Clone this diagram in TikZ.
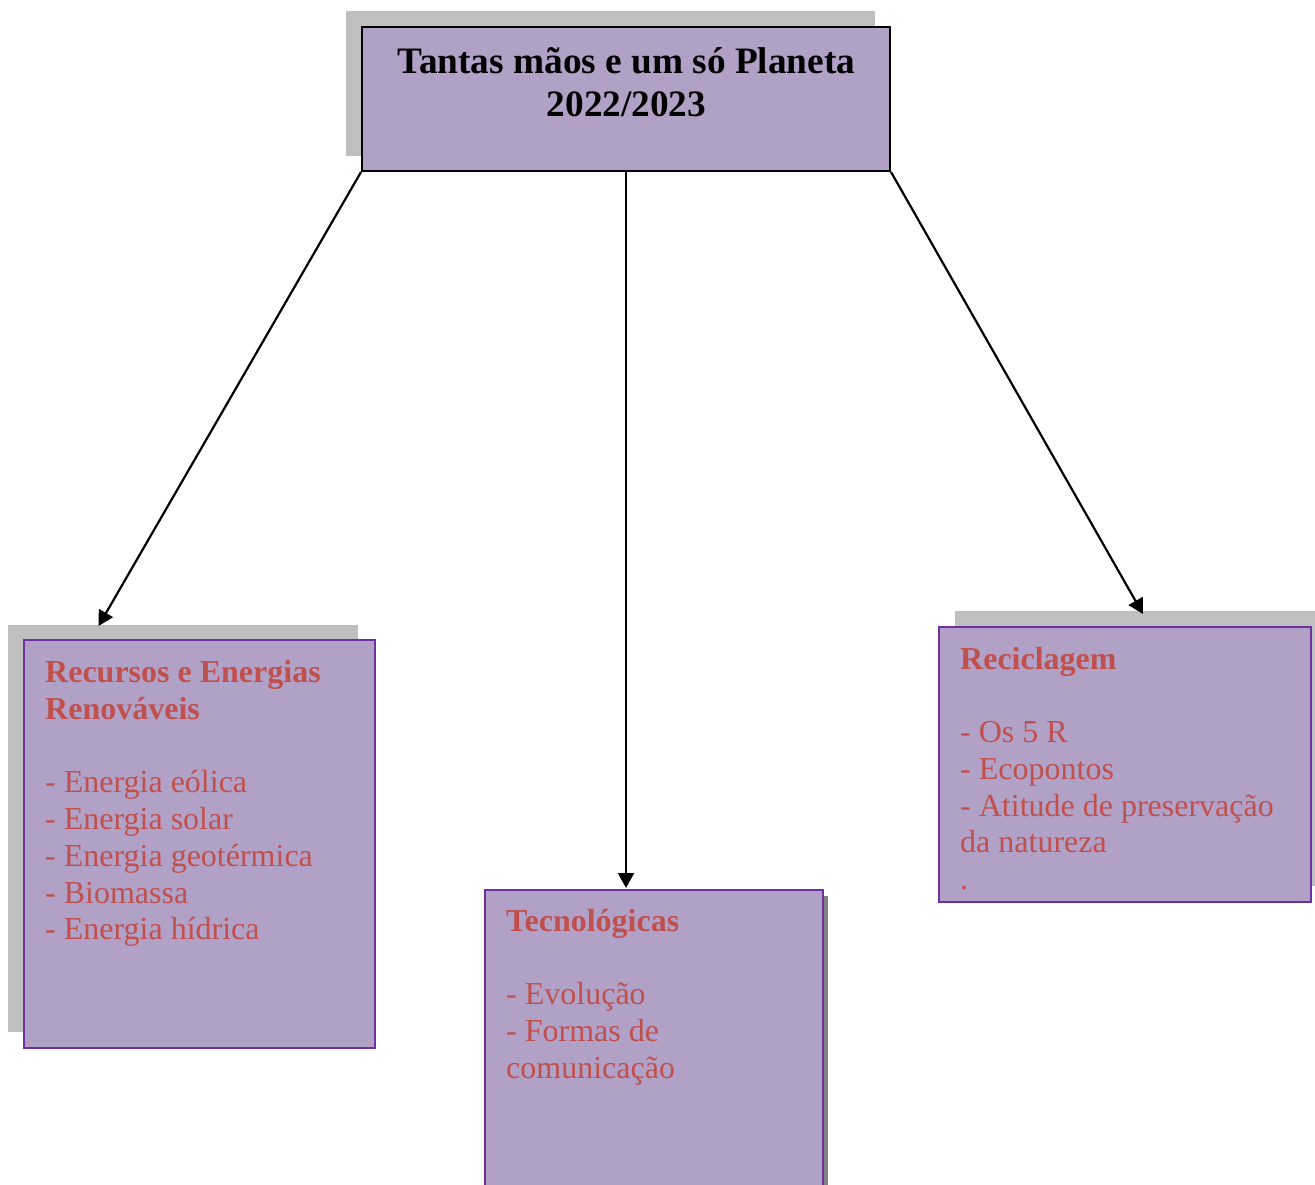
\documentclass[tikz,border=0pt]{standalone}
\usepackage{fontspec}
\setmainfont{Liberation Serif}
\usetikzlibrary{arrows.meta}
\definecolor{boxfill}{HTML}{B2A1C7}
\definecolor{boxtext}{HTML}{C0504D}
\definecolor{boxedge}{HTML}{7030A0}
\definecolor{shadowlight}{HTML}{BFBFBF}
\definecolor{shadowdark}{HTML}{808080}
\tikzset{
  mainbox/.style={draw=black, line width=2pt, fill=boxfill, inner sep=0pt},
  topicbox/.style={draw=boxedge, line width=1.8pt, fill=boxfill, inner sep=0pt},
  titletext/.style={font=\fontsize{37.3}{42.5}\selectfont\bfseries, align=center, inner sep=0pt, anchor=north},
  topictext/.style={font=\fontsize{32}{36.7}\selectfont, text=boxtext, align=left, inner sep=0pt, anchor=north west},
  link/.style={line width=2.2pt, -{Triangle[length=15pt,width=16pt]}}
}
\begin{document}
\begin{tikzpicture}[x=1pt,y=-1pt]
\useasboundingbox (0,0) rectangle (1315,1185);
% shadows
\fill[shadowlight] (346,11) rectangle (875,156);
\fill[shadowlight] (8,625) rectangle (358,1032);
\fill[shadowlight] (955,611) rectangle (1315,886);
\fill[shadowdark] (490,896) rectangle (828,1200);
% boxes
\node[mainbox, minimum width=528pt, minimum height=144pt] (top) at (626,99) {};
\node[topicbox, minimum width=351pt, minimum height=408pt] (left) at (199.5,844) {};
\node[topicbox, minimum width=338pt, minimum height=320pt] (mid) at (654,1050) {};
\node[topicbox, minimum width=372pt, minimum height=275pt] (right) at (1125,764.5) {};
% texts
\node[titletext] (toptext) at (626.5,44) {\strut Tantas mãos e um só Planeta\\\strut 2022/2023};
\node[topictext] (lefttext) at (45,657) {\strut\textbf{Recursos e Energias}\\\strut\textbf{Renováveis}\\\strut\\\strut - Energia eólica\\\strut - Energia solar\\\strut - Energia geotérmica\\\strut - Biomassa\\\strut - Energia hídrica};
\node[topictext] (midtext) at (506,905.5) {\strut\textbf{Tecnológicas}\\\strut\\\strut - Evolução\\\strut - Formas de\\\strut comunicação};
\node[topictext] (righttext) at (960,643.5) {\strut\textbf{Reciclagem}\\\strut\\\strut - Os 5 R\\\strut - Ecopontos\\\strut - Atitude de preservação\\\strut da natureza\\\strut .};
% arrow tips
\coordinate (lefttip) at (98.5,626);
\coordinate (midtip) at (626,888);
\coordinate (righttip) at (1143,614);
% connectors
\draw[link] (top.south west) -- (lefttip);
\draw[link] (top.south) -- (midtip);
\draw[link] (top.south east) -- (righttip);
\end{tikzpicture}
\end{document}
